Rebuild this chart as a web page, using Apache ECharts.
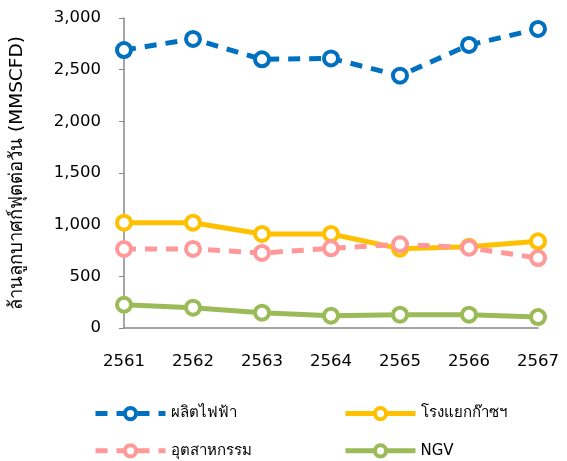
<!DOCTYPE html>
<html>
<head>
<meta charset="utf-8">
<script src="https://cdn.jsdelivr.net/npm/echarts@6/dist/echarts.min.js"></script>
<style>
  html, body { margin: 0; padding: 0; background: #fff; }
  #chart { width: 567px; height: 461px; }
</style>
</head>
<body>
<div id="chart"></div>
<script>
// ปี พ.ศ.
var years = ['2561', '2562', '2563', '2564', '2565', '2566', '2567']
// MMSCFD
var power = [2690, 2797, 2600, 2609, 2442, 2739, 2894]
var gsp = [1019, 1019, 910, 910, 768, 787, 839]
var industry = [765, 765, 726, 771, 810, 777, 677]
var ngv = [225, 197, 148, 119, 129, 129, 106]
var yTicks = [0, 500, 1000, 1500, 2000, 2500, 3000]

var baseFont = '"DejaVu Sans", "Noto Sans", sans-serif'

var chart = echarts.init(document.getElementById('chart'))

function makeSeries(name, data, color, dashed) {
  return {
    name: name,
    type: 'line',
    data: data,
    symbol: 'circle',
    symbolSize: 14,
    itemStyle: { color: '#fff', borderColor: color, borderWidth: 4 },
    lineStyle: { color: color, width: 5, type: dashed ? [12, 9] : 'solid' },
    emphasis: { disabled: true },
    z: dashed ? 3 : 2
  }
}

function legendCol(left, names) {
  return {
    orient: 'vertical',
    left: left,
    top: 406,
    padding: 0,
    itemWidth: 70,
    itemHeight: 14,
    itemGap: 22,
    data: names,
    lineStyle: { width: 5 },
    itemStyle: { borderWidth: 4 },
    textStyle: { fontSize: 15, color: '#000', fontFamily: baseFont }
  }
}

chart.setOption({
  animation: false,
  textStyle: { fontFamily: baseFont },
  grid: { left: 124, right: 29, top: 18, bottom: 133 },
  legend: [
    legendCol(93, ['ผลิตไฟฟ้า', 'อุตสาหกรรม']),
    legendCol(343, ['โรงแยกก๊าซฯ', 'NGV'])
  ],
  xAxis: {
    type: 'category',
    data: years,
    boundaryGap: false,
    axisLine: { lineStyle: { color: '#888', width: 1.5 } },
    axisTick: { show: false },
    axisLabel: { color: '#000', fontSize: 16.5, margin: 25 }
  },
  yAxis: {
    type: 'value',
    min: yTicks[0],
    max: yTicks[yTicks.length - 1],
    interval: 500,
    name: 'ล้านลูกบาศก์ฟุตต่อวัน (MMSCFD)',
    nameLocation: 'middle',
    nameGap: 97,
    nameTextStyle: { color: '#000', fontSize: 18.5 },
    axisLine: { show: true, lineStyle: { color: '#888', width: 1.5 } },
    axisTick: { show: true, length: 5, lineStyle: { color: '#888' } },
    splitLine: { show: false },
    axisLabel: {
      color: '#000',
      fontSize: 16.5,
      margin: 23,
      formatter: function (v) { return v.toLocaleString('en-US') }
    }
  },
  series: [
    makeSeries('ผลิตไฟฟ้า', power, '#0070c0', true),
    makeSeries('โรงแยกก๊าซฯ', gsp, '#ffc000', false),
    makeSeries('อุตสาหกรรม', industry, '#ff9999', true),
    makeSeries('NGV', ngv, '#9bbb59', false)
  ]
})
</script>
</body>
</html>
